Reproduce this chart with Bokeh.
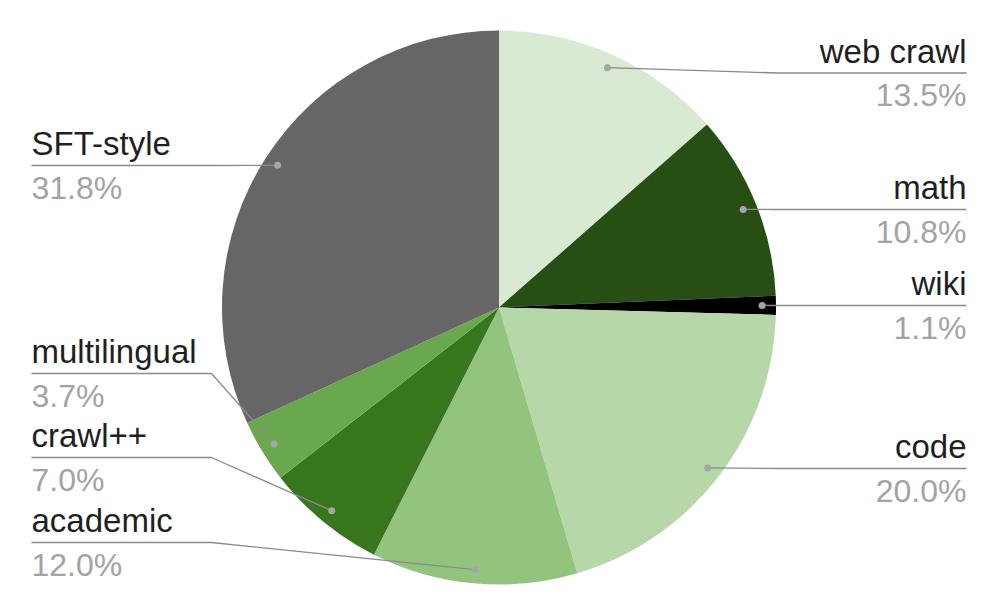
import math
from bokeh.plotting import figure
from bokeh.models import Range1d, ColumnDataSource
from bokeh.core.properties import value
from bokeh.embed import file_html
from bokeh.resources import INLINE

# ---- data ----
categories = ["web crawl", "math", "wiki", "code", "academic", "crawl++", "multilingual", "SFT-style"]
shares = [13.5, 10.8, 1.1, 20.0, 12.0, 7.0, 3.7, 31.8]
colors = ["#d9ead3", "#274e13", "#000000", "#b6d7a8", "#93c47d", "#38761d", "#6aa84f", "#666666"]

# ---- layout (screen pixel coordinates, y measured from top) ----
W, H = 981, 600
CX, CY, R = 498.5, 307, 277
DOT_R = 0.95
label_side = ["right", "right", "right", "right", "left", "left", "left", "left"]
label_line_y = [72.5, 209, 305, 468, 542, 457, 373, 165]
RIGHT_END, RIGHT_ELBOW = 966, 777
LEFT_END, LEFT_ELBOW = 31, 211
NAME_OFF, PCT_OFF = 22, -22

def Y(y):
    return 616 - y

p = figure(width=W, height=H, x_range=Range1d(0, W), y_range=Range1d(616 - H, 616),
           output_backend="svg", toolbar_location=None, min_border=0,
           x_axis_type=None, y_axis_type=None)
p.grid.visible = False
p.outline_line_color = None
p.background_fill_color = "white"
p.border_fill_color = "white"

total = sum(shares)
cum = 0.0
starts, ends, dots_x, dots_y = [], [], [], []
for v in shares:
    a0 = math.pi / 2 - 2 * math.pi * cum / total
    cum += v
    a1 = math.pi / 2 - 2 * math.pi * cum / total
    starts.append(a0)
    ends.append(a1)
    mid = (a0 + a1) / 2
    dots_x.append(CX + DOT_R * R * math.cos(mid))
    dots_y.append(Y(CY) + DOT_R * R * math.sin(mid))

src = ColumnDataSource(dict(start=starts, end=ends, color=colors))
p.wedge(x=CX, y=Y(CY), radius=R, start_angle="start", end_angle="end",
        direction="clock", fill_color="color", line_color=None, source=src)

# leader lines
for i, side in enumerate(label_side):
    ly = Y(label_line_y[i])
    if side == "right":
        xs = [dots_x[i], RIGHT_ELBOW, RIGHT_END]
    else:
        xs = [dots_x[i], LEFT_ELBOW, LEFT_END]
    ys = [dots_y[i], ly, ly]
    p.line(xs, ys, line_color="#8a8a8a", line_width=1.3)

p.scatter(dots_x, dots_y, size=7, fill_color="#a6a6a6", line_color=None)

# labels
name_x, name_y, name_t, name_al = [], [], [], []
for i, side in enumerate(label_side):
    name_x.append(RIGHT_END if side == "right" else LEFT_END)
    name_al.append("right" if side == "right" else "left")
    name_t.append(categories[i])
    name_y.append(Y(label_line_y[i]) + NAME_OFF)
pct_y = [Y(label_line_y[i]) + PCT_OFF for i in range(len(shares))]
pct_t = ["%.1f%%" % v for v in shares]

lsrc = ColumnDataSource(dict(x=name_x, y=name_y, t=name_t, al=name_al, py=pct_y, pt=pct_t))
p.text(x="x", y="y", text="t", text_align="al", text_baseline="alphabetic",
       text_font=value("Liberation Sans"), text_font_size="33px", text_color="#1f1f1f", source=lsrc)
p.text(x="x", y="py", text="pt", text_align="al", text_baseline="alphabetic",
       text_font=value("Liberation Sans"), text_font_size="32px", text_color="#a3a3a3", source=lsrc)

open("out.html", "w").write(file_html(p, INLINE))
